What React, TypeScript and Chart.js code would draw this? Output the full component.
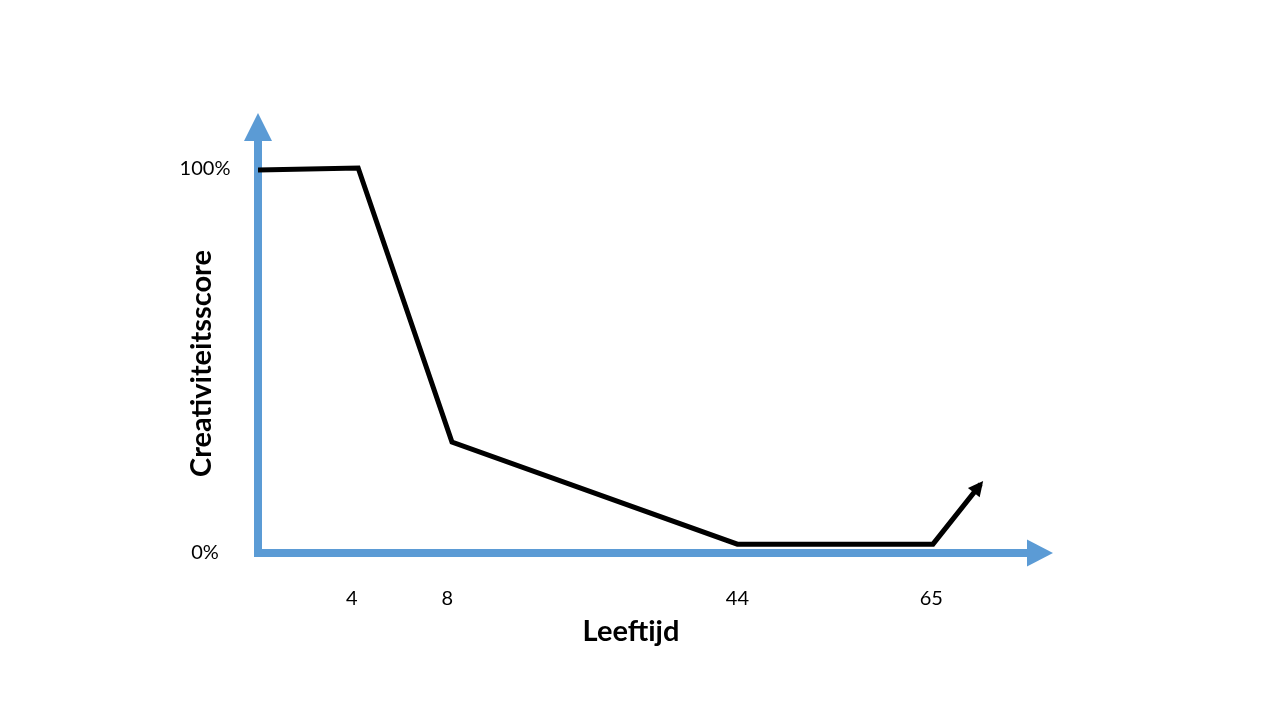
import { useEffect, useRef } from 'react';
import { Chart, registerables } from 'chart.js';

Chart.register(...registerables);

// Schematic ages shown under the x axis and where they sit on the (non-linear) schematic axis
const ageLabels = ['4', '8', '44', '65'];
const agePositions = [11.8, 23.8, 60.3, 84.7];

// The black creativity curve (schematic x position, score in %)
const linePositions = [0, 12.6, 24.4, 60.3, 84.9, 90.9];
const creativityScores = [99.5, 100, 28.8, 2.3, 2.3, 17.9];

const yTickValues = [0, 100];
const yTickLabels = ['0%', '100%'];

const xTitle = 'Leeftijd';
const yTitle = 'Creativiteitsscore';

const BLUE = '#5B9BD5';
const FONT = 'Lato, "Open Sans", sans-serif';

const schematicPlugin = {
  id: 'schematic',
  beforeDatasetsDraw(chart: any) {
    const { ctx, chartArea, scales } = chart;
    const x = scales.x;
    const y = scales.y;
    const x0 = x.getPixelForValue(0);
    const y0 = y.getPixelForValue(0);
    const xEnd = chartArea.right;
    const yEnd = chartArea.top;
    const aw = 8;
    ctx.save();
    ctx.fillStyle = BLUE;
    ctx.strokeStyle = BLUE;
    ctx.lineWidth = aw;
    ctx.lineCap = 'butt';
    // y axis
    ctx.beginPath();
    ctx.moveTo(x0, y0 + aw / 2);
    ctx.lineTo(x0, yEnd + 27);
    ctx.stroke();
    ctx.beginPath();
    ctx.moveTo(x0, yEnd);
    ctx.lineTo(x0 - 14, yEnd + 28);
    ctx.lineTo(x0 + 14, yEnd + 28);
    ctx.closePath();
    ctx.fill();
    // x axis
    ctx.beginPath();
    ctx.moveTo(x0 - aw / 2, y0);
    ctx.lineTo(xEnd - 25, y0);
    ctx.stroke();
    ctx.beginPath();
    ctx.moveTo(xEnd, y0);
    ctx.lineTo(xEnd - 26, y0 - 13.5);
    ctx.lineTo(xEnd - 26, y0 + 13.5);
    ctx.closePath();
    ctx.fill();
    ctx.restore();
  },
  afterDatasetsDraw(chart: any) {
    const { ctx, scales } = chart;
    const x = scales.x;
    const y = scales.y;
    const n = linePositions.length;
    const px1 = x.getPixelForValue(linePositions[n - 2]);
    const py1 = y.getPixelForValue(creativityScores[n - 2]);
    const px2 = x.getPixelForValue(linePositions[n - 1]);
    const py2 = y.getPixelForValue(creativityScores[n - 1]);
    const len = Math.hypot(px2 - px1, py2 - py1);
    const dx = (px2 - px1) / len;
    const dy = (py2 - py1) / len;
    const tipX = px2 + dx * 4;
    const tipY = py2 + dy * 4;
    const headLen = 15;
    const headHalf = 7.5;
    const bx = tipX - dx * headLen;
    const by = tipY - dy * headLen;
    ctx.save();
    ctx.fillStyle = '#000';
    ctx.beginPath();
    ctx.moveTo(tipX, tipY);
    ctx.lineTo(bx - dy * headHalf, by + dx * headHalf);
    ctx.lineTo(bx + dy * headHalf, by - dx * headHalf);
    ctx.closePath();
    ctx.fill();
    ctx.restore();
  },
  afterDraw(chart: any) {
    const { ctx, scales } = chart;
    const x = scales.x;
    const y = scales.y;
    const x0 = x.getPixelForValue(0);
    const y0 = y.getPixelForValue(0);
    ctx.save();
    ctx.fillStyle = '#000';
    ctx.font = `20px ${FONT}`;
    ctx.textAlign = 'center';
    ctx.textBaseline = 'middle';
    yTickValues.forEach((v, i) => {
      ctx.fillText(yTickLabels[i], x0 - 53, y.getPixelForValue(v));
    });
    agePositions.forEach((v, i) => {
      ctx.fillText(ageLabels[i], x.getPixelForValue(v), y0 + 46);
    });
    ctx.font = `bold 29px ${FONT}`;
    ctx.textBaseline = 'alphabetic';
    ctx.fillText(xTitle, 631, y0 + 88);
    ctx.translate(x0 - 47, (y.getPixelForValue(100) + y0) / 2 + 3);
    ctx.rotate(-Math.PI / 2);
    ctx.fillText(yTitle, 0, 0);
    ctx.restore();
  },
};

export default function App() {
  const canvasRef = useRef<HTMLCanvasElement | null>(null);

  useEffect(() => {
    const canvas = canvasRef.current;
    if (!canvas) return;
    const chart = new Chart(canvas, {
      type: 'line',
      data: {
        datasets: [
          {
            data: linePositions.map((p, i) => ({ x: p, y: creativityScores[i] })),
            borderColor: '#000',
            borderWidth: 5,
            pointRadius: 0,
            tension: 0,
            fill: false,
            borderJoinStyle: 'miter',
            borderCapStyle: 'butt',
          },
        ],
      },
      options: {
        animation: false,
        responsive: false,
        layout: { padding: { left: 258, right: 227, top: 113, bottom: 167 } },
        plugins: { legend: { display: false }, tooltip: { enabled: false } },
        scales: {
          x: { type: 'linear', min: 0, max: 100, display: false },
          y: { type: 'linear', min: 0, max: 114.3, display: false },
        },
      },
      plugins: [schematicPlugin],
    } as any);
    return () => chart.destroy();
  }, []);

  return (
    <div style={{ position: 'fixed', left: 0, top: 0, width: 1280, height: 720, background: '#fff' }}>
      <canvas ref={canvasRef} width={1280} height={720} />
    </div>
  );
}
